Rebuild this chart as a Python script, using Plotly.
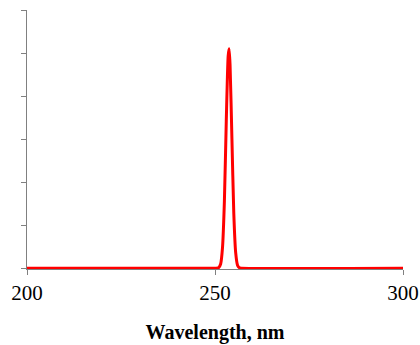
import plotly.graph_objects as go

wavelength = [200, 250, 250.5, 251, 251.5, 252, 252.5, 253, 253.5, 253.75, 254, 254.5, 255, 255.5, 256, 256.5, 257, 300]
intensity = [0, 0, 0.001, 0.013, 0.095, 0.48, 1.56, 3.42, 4.93, 5.1, 4.74, 3.01, 1.27, 0.36, 0.066, 0.008, 0, 0]

x_ticks = [200, 250, 300]
y_ticks = [0, 1, 2, 3, 4, 5, 6]

fig = go.Figure()
fig.add_trace(go.Scatter(
    x=wavelength, y=intensity, mode="lines",
    line=dict(color="#ff0000", width=3, shape="spline", smoothing=0.6),
    hoverinfo="skip", showlegend=False,
))

font_family = "Liberation Serif, Times New Roman, serif"
fig.update_layout(
    width=420, height=345,
    margin=dict(l=27, r=17, t=10, b=76, autoexpand=False),
    paper_bgcolor="white", plot_bgcolor="white",
    font=dict(family=font_family, size=20, color="black"),
)
fig.update_xaxes(
    range=[200, 300], tickvals=x_ticks, ticktext=[str(v) for v in x_ticks],
    showgrid=False, zeroline=False, showline=True, linecolor="#808080", linewidth=1,
    ticks="outside", ticklen=5, tickcolor="#808080", tickwidth=1,
    tickfont=dict(family=font_family, size=21, color="black"),
    title=dict(text="<b>Wavelength, nm</b>", font=dict(family=font_family, size=20, color="black"), standoff=20),
    layer="below traces",
)
fig.update_yaxes(
    range=[-0.02, 6], tickvals=y_ticks, showticklabels=False,
    showgrid=False, zeroline=False, showline=True, linecolor="#808080", linewidth=1,
    ticks="outside", ticklen=5, tickcolor="#808080", tickwidth=1,
    layer="below traces",
)

fig.write_html(
    "out.html",
    config={"displayModeBar": False, "staticPlot": True},
    post_script="document.body.style.margin='0';document.body.style.overflow='hidden';",
)
